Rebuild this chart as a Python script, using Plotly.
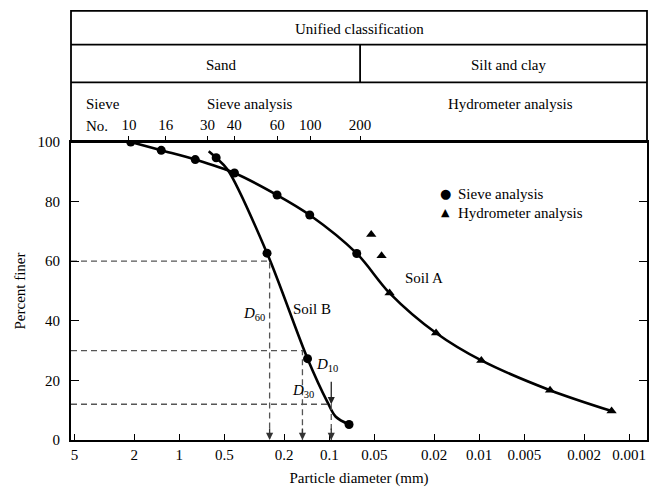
import numpy as np
import plotly.graph_objects as go

# ---------------- data ----------------
# Soil A - sieve analysis (particle diameter mm, percent finer)
soil_a_sieve_d = [2.11, 1.32, 0.783, 0.429, 0.223, 0.135, 0.0656]
soil_a_sieve_p = [100.0, 97.2, 94.1, 89.6, 82.2, 75.5, 62.6]
# Soil A - hydrometer analysis
soil_a_hydro_d = [0.0525, 0.0448, 0.0396, 0.0194, 0.00968, 0.00337, 0.00131]
soil_a_hydro_p = [69.0, 61.8, 49.3, 35.9, 26.7, 16.7, 9.7]
# hydrometer points lying on the fitted curve (the first two lie off it)
soil_a_hydro_on_curve = [False, False, True, True, True, True, True]

# Soil B - sieve analysis
soil_b_sieve_d = [0.568, 0.260, 0.1396, 0.0738]
soil_b_sieve_p = [94.7, 62.7, 27.3, 5.2]
# Soil B fitted curve
soil_b_curve_d = [0.637, 0.568, 0.476, 0.260, 0.1396, 0.103, 0.0905, 0.0738]
soil_b_curve_p = [96.9, 94.7, 90.7, 62.7, 27.3, 12.8, 7.8, 5.2]

# Effective sizes of soil B
d_labels = ["60", "30", "10"]
d_values = [0.25, 0.151, 0.097]
d_percent = [60, 30, 12]

# Axis tick labels
x_tick_vals = [5, 2, 1, 0.5, 0.2, 0.1, 0.05, 0.02, 0.01, 0.005, 0.002, 0.001]
x_tick_text = ["5", "2", "1", "0.5", "0.2", "0.1", "0.05", "0.02", "0.01", "0.005", "0.002", "0.001"]
y_tick_vals = [0, 20, 40, 60, 80, 100]
sieve_numbers = ["10", "16", "30", "40", "60", "100", "200"]
sieve_mm = [2.17, 1.23, 0.648, 0.43, 0.222, 0.134, 0.0623]

# ---------------- layout constants ----------------
FONT = "Liberation Serif, Times New Roman, serif"
FS = 15
X_RANGE = [0.7225, -3.119]   # log10 units, reversed
W, H = 658, 493
ML, MR, MT, MB = 71, 9, 142, 51
PW, PH = W - ML - MR, H - MT - MB


def xpaper_from_mm(v):
    return (np.log10(v) - X_RANGE[0]) / (X_RANGE[1] - X_RANGE[0])


def xpaper_from_px(px):
    return (px - ML) / PW


def ypaper_from_px(py):
    return (H - MB - py) / PH


fig = go.Figure()

# Soil A fitted curve
curve_a_d = soil_a_sieve_d + [d for d, on in zip(soil_a_hydro_d, soil_a_hydro_on_curve) if on]
curve_a_p = soil_a_sieve_p + [p for p, on in zip(soil_a_hydro_p, soil_a_hydro_on_curve) if on]
fig.add_trace(go.Scatter(x=curve_a_d, y=curve_a_p, mode="lines",
                         line=dict(color="black", width=2.6, shape="spline", smoothing=0.9),
                         hoverinfo="skip"))
fig.add_trace(go.Scatter(x=soil_b_curve_d, y=soil_b_curve_p, mode="lines",
                         line=dict(color="black", width=2.6, shape="spline", smoothing=0.9),
                         hoverinfo="skip"))

# dashed guide lines for D60, D30, D10
x_left = 10 ** X_RANGE[0]
for dv, dp in zip(d_values, d_percent):
    fig.add_trace(go.Scatter(x=[x_left, dv, dv], y=[dp, dp, 0], mode="lines",
                             line=dict(color="#555555", width=1.3, dash="6px,4px"),
                             cliponaxis=False, hoverinfo="skip"))

# markers
fig.add_trace(go.Scatter(x=soil_a_sieve_d, y=soil_a_sieve_p, mode="markers",
                         marker=dict(symbol="circle", size=9, color="black"), name="Sieve analysis"))
fig.add_trace(go.Scatter(x=soil_b_sieve_d, y=soil_b_sieve_p, mode="markers",
                         marker=dict(symbol="circle", size=9, color="black"), name="Sieve analysis"))
fig.add_trace(go.Scatter(x=soil_a_hydro_d, y=soil_a_hydro_p, mode="markers",
                         marker=dict(symbol="triangle-up", size=9, color="black"),
                         name="Hydrometer analysis"))

# invisible trace for the top (sieve) axis
fig.add_trace(go.Scatter(x=sieve_mm, y=[None] * len(sieve_mm), xaxis="x2", mode="markers",
                         hoverinfo="skip", showlegend=False))

annotations = []
# arrowheads at the bottom of each D line
for dv in d_values:
    annotations.append(dict(x=np.log10(dv), y=0, xref="x", yref="y", text="", showarrow=True,
                            ax=0, ay=-13, arrowhead=2, arrowsize=1.1, arrowwidth=1.3,
                            arrowcolor="#333333"))
# short solid arrow pointing at D10 on the curve
annotations.append(dict(x=np.log10(d_values[2]), y=d_percent[2], xref="x", yref="y", text="",
                        showarrow=True, ax=0, ay=-24, arrowhead=2, arrowsize=1.1, arrowwidth=1.3,
                        arrowcolor="#222222"))

# D labels
d_label_pos = [(-0.500, 42.3), (-0.822, 16.4), (-0.988, 25.1)]
for lab, (lx, ly) in zip(d_labels, d_label_pos):
    annotations.append(dict(x=lx, y=ly, xref="x", yref="y", showarrow=False,
                            xanchor="center", yanchor="middle",
                            text="<i>D</i><sub>%s</sub>" % lab, font=dict(size=FS)))
# soil labels
annotations.append(dict(x=-1.630, y=54.2, xref="x", yref="y", showarrow=False, text="Soil A",
                        xanchor="center", yanchor="middle", font=dict(size=FS)))
annotations.append(dict(x=-0.888, y=44.0, xref="x", yref="y", showarrow=False, text="Soil B",
                        xanchor="center", yanchor="middle", font=dict(size=FS)))

# legend (drawn as text)
legend_items = [("\u25CF", "Sieve analysis", 194.3, 13), ("\u25B2", "Hydrometer analysis", 213.3, 11)]
for glyph, txt, ypx, gsize in legend_items:
    annotations.append(dict(x=xpaper_from_px(446.7), y=ypaper_from_px(ypx), xref="paper", yref="paper",
                            text=glyph, showarrow=False, xanchor="center", yanchor="middle",
                            font=dict(size=gsize, family="DejaVu Sans")))
    annotations.append(dict(x=xpaper_from_px(457), y=ypaper_from_px(ypx), xref="paper", yref="paper",
                            text=txt, showarrow=False, xanchor="left", yanchor="middle",
                            font=dict(size=FS)))

# header texts
div_x = xpaper_from_mm(sieve_mm[-1])
header_texts = [
    ("Unified classification", xpaper_from_px(361), 28, "center"),
    ("Sand", xpaper_from_px(222), 64, "center"),
    ("Silt and clay", xpaper_from_px(510), 64, "center"),
    ("Sieve analysis", xpaper_from_px(251), 104, "center"),
    ("Hydrometer analysis", xpaper_from_px(512), 104, "center"),
    ("Sieve", xpaper_from_px(84), 104, "left"),
    ("No.", xpaper_from_px(84), 126, "left"),
]
for txt, xp, ypx, anchor in header_texts:
    annotations.append(dict(x=xp, y=ypaper_from_px(ypx), xref="paper", yref="paper", text=txt,
                            showarrow=False, xanchor=anchor, yanchor="middle", font=dict(size=FS)))

shapes = [
    dict(type="rect", xref="paper", yref="paper", x0=0, x1=1, y0=1, y1=ypaper_from_px(10),
         line=dict(color="black", width=1.8)),
    dict(type="line", xref="paper", yref="paper", x0=0, x1=1,
         y0=ypaper_from_px(44), y1=ypaper_from_px(44), line=dict(color="black", width=1.8)),
    dict(type="line", xref="paper", yref="paper", x0=0, x1=1,
         y0=ypaper_from_px(82), y1=ypaper_from_px(82), line=dict(color="black", width=1.8)),
    dict(type="line", xref="paper", yref="paper", x0=div_x, x1=div_x,
         y0=ypaper_from_px(44), y1=ypaper_from_px(82), line=dict(color="black", width=1.8)),
]

fig.update_layout(
    width=W, height=H,
    margin=dict(l=ML, r=MR, t=MT, b=MB, pad=0),
    paper_bgcolor="white", plot_bgcolor="white",
    font=dict(family=FONT, size=FS, color="black"),
    showlegend=False,
    annotations=annotations,
    shapes=shapes,
    xaxis=dict(type="log", range=X_RANGE, tickmode="array", tickvals=x_tick_vals, ticktext=x_tick_text,
               ticks="inside", ticklen=6, tickwidth=1, tickcolor="black",
               showline=True, linecolor="black", linewidth=2, mirror=True,
               showgrid=False, zeroline=False, tickfont=dict(size=FS),
               title=dict(text="Particle diameter (mm)", standoff=10, font=dict(size=FS))),
    xaxis2=dict(type="log", range=X_RANGE, overlaying="x", side="top", anchor="y",
                tickmode="array", tickvals=sieve_mm, ticktext=sieve_numbers,
                ticks="outside", ticklen=5, tickwidth=1, tickcolor="black", tickfont=dict(size=FS),
                showline=False, showgrid=False, zeroline=False),
    yaxis=dict(range=[0, 100], tickmode="array", tickvals=y_tick_vals,
               ticks="inside", ticklen=8, tickwidth=1, tickcolor="black",
               showline=True, linecolor="black", linewidth=2, mirror="ticks",
               showgrid=False, zeroline=False, tickfont=dict(size=FS), ticklabelstandoff=6,
               title=dict(text="Percent finer", standoff=8, font=dict(size=FS))),
)

fig.write_html("out.html")
